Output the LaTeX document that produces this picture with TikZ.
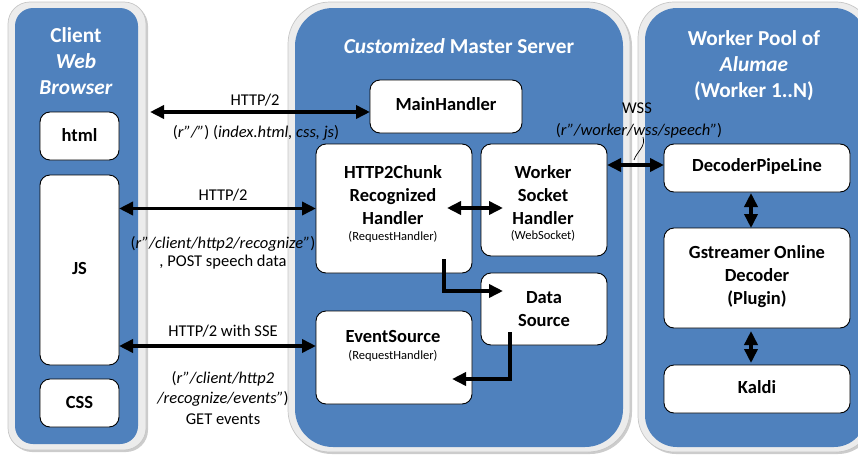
\documentclass[tikz,border=0pt]{standalone}
\usepackage{fontspec}
\setmainfont{Carlito}
\usetikzlibrary{arrows.meta}
\definecolor{panelblue}{HTML}{4F81BD}
\definecolor{bandgray}{HTML}{ECECEC}

\begin{document}
\begin{tikzpicture}[x=1pt,y=-1pt,
  >={Triangle[length=14pt,width=13pt]},
  band/.style={fill=bandgray, draw=gray!45, line width=0.7pt},
  bandshadow/.style={fill=gray!40},
  panel/.style={fill=panelblue},
  box/.style={draw=black, fill=white, line width=0.9pt, rounded corners=10pt,
              inner sep=0pt, outer sep=0pt},
  boxtext/.style={font=\fontsize{18.5}{23}\selectfont\bfseries, align=center, inner sep=0pt},
  subtext/.style={font=\fontsize{12.5}{15}\selectfont, inner sep=0pt},
  title/.style={font=\fontsize{21.3}{26}\selectfont\bfseries, text=white, align=center, inner sep=0pt},
  lbl/.style={font=\fontsize{16.5}{20.5}\selectfont, align=center, inner sep=0pt},
  wire/.style={line width=3.5pt, ->},
  twoway/.style={line width=3.5pt, <->},
  callout/.style={line width=0.7pt}
]
\useasboundingbox (0,0) rectangle (858,455);

% ---- panels: light frame with a soft shadow, blue body ----
% client web browser
\fill[bandshadow, rounded corners=22pt] (10,4) rectangle (148,452);
\draw[band, rounded corners=22pt] (8,2) rectangle (146,450);
\fill[panel, rounded corners=18pt] (15,8) rectangle (138,444);
% master server
\fill[bandshadow, rounded corners=42pt] (290,4) rectangle (632,454);
\draw[band, rounded corners=42pt] (288,2) rectangle (630,452);
\fill[panel, rounded corners=38pt] (295,8) rectangle (623,447);
% worker pool
\fill[bandshadow, rounded corners=36pt] (640,4) rectangle (874,454);
\draw[band, rounded corners=36pt] (638,2) rectangle (872,452);
\fill[panel, rounded corners=32pt] (645,8) rectangle (866,447);

% ---- panel titles ----
\node[title] (clientTitle) at (76,61) {Client\\\textit{Web}\\\textit{Browser}};
\node[title] (masterTitle) at (459,46) {\textit{Customized} Master Server};
\node[title] (workerTitle) at (754,66) {Worker Pool of\\\textit{Alumae}\\(Worker 1..N)};

% ---- client boxes ----
\node[box, minimum width=79pt, minimum height=48pt] (html) at (79.5,136) {};
\node[boxtext] (htmlT) at (79.5,135) {html};
\node[box, minimum width=79pt, minimum height=190pt] (js) at (79.5,270) {};
\node[boxtext] (jsT) at (79.5,268) {JS};
\node[box, minimum width=79pt, minimum height=48pt] (css) at (79.5,403) {};
\node[boxtext] (cssT) at (79.5,402) {CSS};

% ---- master server boxes ----
\node[box, minimum width=152pt, minimum height=53pt] (main) at (446,106.5) {};
\node[boxtext] (mainT) at (446,104) {MainHandler};

\node[box, minimum width=156pt, minimum height=129pt] (chunk) at (394,208.5) {};
\node[boxtext] (chunkT) at (393,195) {HTTP2Chunk\\Recognized\\Handler};
\node[subtext] (chunkS) at (393,237) {(RequestHandler)};

\node[box, minimum width=126pt, minimum height=112pt] (wsh) at (544,200) {};
\node[boxtext] (wshT) at (543,195) {Worker\\Socket\\Handler};
\node[subtext] (wshS) at (543,236) {(WebSocket)};

\node[box, minimum width=126pt, minimum height=72pt] (data) at (544,309) {};
\node[boxtext] (dataT) at (544,309.5) {Data\\Source};

\node[box, minimum width=156pt, minimum height=93pt] (event) at (394,357.5) {};
\node[boxtext] (eventT) at (393,336) {EventSource};
\node[subtext] (eventS) at (393,356) {(RequestHandler)};

% ---- worker boxes ----
\node[box, minimum width=186pt, minimum height=48pt] (dpl) at (757,168) {};
\node[boxtext] (dplT) at (757,166) {DecoderPipeLine};
\node[box, minimum width=186pt, minimum height=100pt] (gst) at (757,278) {};
\node[boxtext] (gstT) at (757,277) {Gstreamer Online\\Decoder\\(Plugin)};
\node[box, minimum width=186pt, minimum height=48pt] (kaldi) at (757,389) {};
\node[boxtext] (kaldiT) at (757,387) {Kaldi};

% ---- connector end points ----
\coordinate (pageIn) at (150,112);
\coordinate (sseY) at (0,346);
\coordinate (cwA) at (447,208);
\coordinate (cwB) at (503,208);
\coordinate (wssY) at (0,165);
\coordinate (chunkOut) at (444,259);
\coordinate (dataIn) at (503,291);
\coordinate (dataOut) at (510,332);
\coordinate (eventIn) at (452,379);
\coordinate (pipeA) at (751,193);
\coordinate (pipeB) at (751,228);
\coordinate (pipeC) at (751,331);
\coordinate (pipeD) at (751,363);
\coordinate (wssA) at (643,137);
\coordinate (wssB) at (634,160);

% ---- connectors ----
\draw[twoway] (pageIn) -- (pageIn -| main.west);
\draw[twoway] (js.east |- chunk.west) -- (chunk.west);
\draw[twoway] (js.east |- sseY) -- (event.west |- sseY);
\draw[twoway] (cwA) -- (cwB);
\draw[twoway] (wsh.east |- wssY) -- (dpl.west |- wssY);
\draw[wire] (chunkOut) |- (dataIn);
\draw[wire] (dataOut) |- (eventIn);
\draw[twoway] (pipeA) -- (pipeB);
\draw[twoway] (pipeC) -- (pipeD);
\draw[callout] (wssA) .. controls (646,147) and (637,151) .. (wssB);

% ---- connector labels ----
\node[lbl] (lblA1) at (255,100) {HTTP/2};
\node[lbl] (lblA2) at (256,133) {(\textit{r”/”}) (\textit{index.html, css, js})};
\node[lbl] (lblB1) at (223,195) {HTTP/2};
\node[lbl, font=\fontsize{16.5}{18.5}\selectfont] (lblB2) at (223,253)
  {(\textit{r”/client/http2/recognize”})\\, POST speech data};
\node[lbl] (lblC1) at (223,331) {HTTP/2 with SSE};
\node[lbl] (lblC2) at (223,398) {(\textit{r”/client/http2}\\\textit{/recognize/events”})\\GET events};
\node[lbl] (lblD1) at (637,108) {WSS};
\node[lbl] (lblD2) at (639,131) {(\textit{r”/worker/wss/speech”})};
\end{tikzpicture}
\end{document}
